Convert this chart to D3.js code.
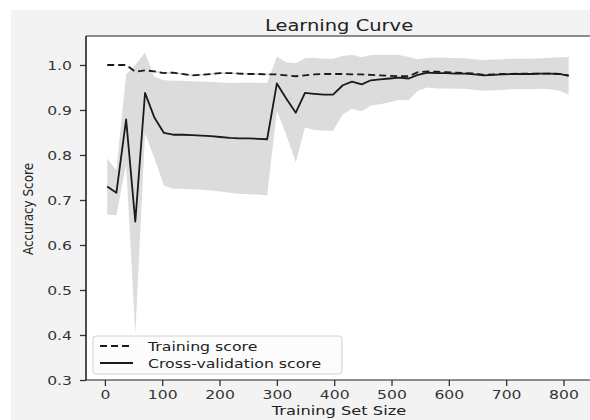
<!DOCTYPE html>
<html><head><meta charset="utf-8">
<script src="https://cdn.jsdelivr.net/npm/d3@7"></script>
<style>html,body{margin:0;padding:0;background:#fff;}svg{display:block;}</style>
</head><body>
<svg id="chart" width="590" height="420"></svg>
<script>
const trainSizes = [4,20,37,53,70,86,103,119,135,152,168,185,201,218,234,250,267,283,300,316,333,349,365,382,398,415,431,448,464,480,497,513,530,546,563,579,595,612,628,645,661,677,694,710,727,743,760,776,793,809];
const trainMean = [1.000,1.000,1.000,0.985,0.988,0.986,0.982,0.983,0.980,0.977,0.978,0.980,0.982,0.982,0.981,0.980,0.980,0.979,0.979,0.977,0.975,0.977,0.979,0.980,0.980,0.980,0.979,0.979,0.978,0.977,0.976,0.975,0.975,0.984,0.986,0.985,0.984,0.983,0.982,0.981,0.978,0.979,0.980,0.980,0.981,0.981,0.981,0.981,0.980,0.977];
const trainLower = [1.000,1.000,1.000,0.983,0.986,0.984,0.980,0.981,0.978,0.975,0.976,0.978,0.980,0.980,0.979,0.978,0.978,0.977,0.977,0.975,0.973,0.975,0.977,0.978,0.978,0.978,0.977,0.977,0.976,0.975,0.974,0.973,0.973,0.982,0.984,0.983,0.982,0.981,0.980,0.979,0.976,0.977,0.978,0.978,0.979,0.979,0.979,0.979,0.978,0.975];
const trainUpper = [1.000,1.000,1.000,0.987,0.990,0.988,0.984,0.985,0.982,0.979,0.980,0.982,0.984,0.984,0.983,0.982,0.982,0.981,0.981,0.979,0.977,0.979,0.981,0.982,0.982,0.982,0.981,0.981,0.980,0.979,0.978,0.977,0.977,0.986,0.988,0.987,0.986,0.985,0.984,0.983,0.980,0.981,0.982,0.982,0.983,0.983,0.983,0.983,0.982,0.979];
const cvMean = [0.730,0.716,0.879,0.652,0.938,0.884,0.849,0.845,0.845,0.844,0.843,0.842,0.840,0.838,0.837,0.837,0.836,0.835,0.959,0.926,0.894,0.938,0.936,0.934,0.934,0.955,0.963,0.957,0.966,0.968,0.970,0.972,0.970,0.978,0.983,0.982,0.982,0.981,0.981,0.979,0.977,0.978,0.979,0.980,0.980,0.980,0.981,0.981,0.980,0.976];
const cvLower = [0.668,0.666,0.779,0.402,0.848,0.794,0.732,0.725,0.725,0.724,0.723,0.721,0.719,0.716,0.714,0.713,0.712,0.710,0.899,0.846,0.784,0.861,0.856,0.854,0.854,0.890,0.903,0.897,0.910,0.913,0.917,0.922,0.922,0.943,0.950,0.948,0.948,0.947,0.947,0.945,0.943,0.944,0.945,0.946,0.946,0.946,0.947,0.946,0.943,0.934];
const cvUpper = [0.792,0.766,0.979,1.000,1.028,0.974,0.966,0.965,0.965,0.964,0.963,0.963,0.961,0.960,0.960,0.961,0.960,0.960,1.019,1.006,1.004,1.015,1.016,1.014,1.014,1.020,1.023,1.017,1.022,1.023,1.023,1.022,1.018,1.013,1.016,1.016,1.016,1.015,1.015,1.013,1.011,1.012,1.013,1.014,1.014,1.014,1.015,1.016,1.017,1.018];
const xTicks = [0,100,200,300,400,500,600,700,800];
const yTicks = [0.3,0.4,0.5,0.6,0.7,0.8,0.9,1.0];
const seriesNames = ["Training score","Cross-validation score"];
const titleText = "Learning Curve";
const xLabel = "Training Set Size";
const yLabel = "Accuracy Score";

const SX = 1.25;
const FONT = "DejaVu Sans, sans-serif";
const svg = d3.select("#chart");
const L = 86, T = 36, R = 595, B = 380;

svg.append("rect").attr("x",11).attr("y",10).attr("width",590).attr("height",420).attr("fill","#f3f3f3");
svg.append("rect").attr("x",L).attr("y",T).attr("width",R-L).attr("height",B-T).attr("fill","#ffffff");

const x = d3.scaleLinear().domain([-33, 855]).range([L, R]);
const y = d3.scaleLinear().domain([0.3, 1.0644]).range([B, T]);

svg.append("clipPath").attr("id","clip").append("rect").attr("x",L).attr("y",T).attr("width",R-L).attr("height",B-T);
const plot = svg.append("g").attr("clip-path","url(#clip)");

const idx = d3.range(trainSizes.length);
const band = (lo, hi) => d3.area().x(i => x(trainSizes[i])).y0(i => y(lo[i])).y1(i => y(hi[i]));
plot.append("path").datum(idx).attr("d", band(cvLower, cvUpper)).attr("fill","#dcdcdc");
plot.append("path").datum(idx).attr("d", band(trainLower, trainUpper)).attr("fill","#dcdcdc");

const line = m => d3.line().x(i => x(trainSizes[i])).y(i => y(m[i]));
plot.append("path").datum(idx).attr("d", line(cvMean)).attr("fill","none").attr("stroke","#1a1a1a").attr("stroke-width",1.8).attr("stroke-linejoin","round");
plot.append("path").datum(idx).attr("d", line(trainMean)).attr("fill","none").attr("stroke","#1a1a1a").attr("stroke-width",1.8).attr("stroke-dasharray","7,4");

// axes
const gx = svg.append("g").attr("transform",`translate(0,${B})`)
  .call(d3.axisBottom(x).tickValues(xTicks).tickSize(6).tickSizeOuter(0).tickFormat(d3.format("d")));
gx.select(".domain").remove();
gx.selectAll("line").attr("stroke","#333").attr("stroke-width",1.3);
gx.selectAll("text").attr("y",0).attr("dy",0).attr("transform",`translate(0,19) scale(${SX},1)`)
  .style("font-family",FONT).style("font-size","12.5px").attr("fill","#333");

const gy = svg.append("g").attr("transform",`translate(${L},0)`)
  .call(d3.axisLeft(y).tickValues(yTicks).tickSize(6).tickSizeOuter(0).tickFormat(d3.format(".1f")));
gy.select(".domain").remove();
gy.selectAll("line").attr("stroke","#333").attr("stroke-width",1.3);
gy.selectAll("text").attr("x",0).attr("dy","0.35em").attr("transform",`translate(-14,0) scale(${SX},1)`)
  .style("font-family",FONT).style("font-size","12.5px").attr("fill","#333");

// spines
svg.append("line").attr("x1",L).attr("x2",L).attr("y1",T).attr("y2",B).attr("stroke","#222").attr("stroke-width",1.6);
svg.append("line").attr("x1",L).attr("x2",R).attr("y1",T).attr("y2",T).attr("stroke","#222").attr("stroke-width",1.1);
svg.append("line").attr("x1",L).attr("x2",R).attr("y1",B).attr("y2",B).attr("stroke","#222").attr("stroke-width",1.1);

function txt(s, tx, ty, size, anchor) {
  return svg.append("text").text(s).attr("transform",`translate(${tx},${ty}) scale(${SX},1)`)
    .attr("text-anchor",anchor).style("font-family",FONT).style("font-size",size+"px").attr("fill","#222");
}
txt(titleText, 339, 31, 15.6, "middle");
txt(xLabel, 339, 415, 13, "middle");
svg.append("text").text(yLabel).attr("transform",`translate(33,209) scale(1.1,1) rotate(-90)`)
  .attr("text-anchor","middle").style("font-family",FONT).style("font-size","12px").attr("fill","#222");

// legend
const lg = svg.append("g");
lg.append("rect").attr("x",93).attr("y",336).attr("width",249).attr("height",38).attr("rx",3)
  .attr("fill","#fcfcfc").attr("stroke","#d0d0d0").attr("stroke-width",1);
const rows = [346, 363];
seriesNames.forEach((nm, i) => {
  lg.append("line").attr("x1",100).attr("x2",133).attr("y1",rows[i]).attr("y2",rows[i])
    .attr("stroke","#1a1a1a").attr("stroke-width",1.8).attr("stroke-dasharray", i===0 ? "7,4" : null);
  txt(nm, 148, rows[i]+4.5, 12.6, "start");
});
</script>
</body></html>
